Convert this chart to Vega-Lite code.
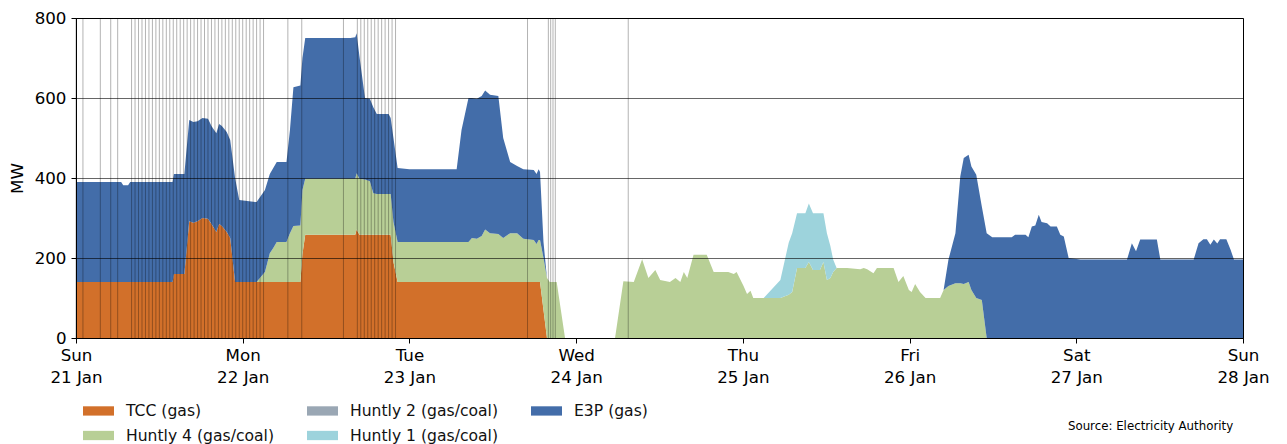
{
  "$schema": "https://vega.github.io/schema/vega-lite/v6.json",
  "description": "Generation by plant, 21-28 Jan",
  "autosize": {"type": "none"},
  "width": 1167,
  "height": 320,
  "padding": {"left": 76, "top": 18, "right": 44, "bottom": 106},
  "config": {
    "font": "DejaVu Sans",
    "view": {"stroke": "#000", "strokeWidth": 1},
    "axis": {"labelFont": "DejaVu Sans", "titleFont": "DejaVu Sans", "labelColor": "#000", "titleColor": "#000", "domainColor": "#000", "tickColor": "#000"}
  },
  "title": {"text": "Source: Electricity Authority", "orient": "bottom", "anchor": "end", "fontSize": 11.8, "fontWeight": "normal", "color": "#000", "offset": -24, "dx": -36},
  "layer": [
    {
      "data": {
        "values": [
          {"t":"2024-01-21T00:00Z","TCC":140,"H4":0,"H2":0,"H1":0,"E3P":250},
          {"t":"2024-01-21T06:30Z","TCC":140,"H4":0,"H2":0,"H1":0,"E3P":250},
          {"t":"2024-01-21T06:48Z","TCC":140,"H4":0,"H2":0,"H1":0,"E3P":242},
          {"t":"2024-01-21T07:30Z","TCC":140,"H4":0,"H2":0,"H1":0,"E3P":242},
          {"t":"2024-01-21T07:48Z","TCC":140,"H4":0,"H2":0,"H1":0,"E3P":250},
          {"t":"2024-01-21T13:54Z","TCC":140,"H4":0,"H2":0,"H1":0,"E3P":250},
          {"t":"2024-01-21T14:06Z","TCC":160,"H4":0,"H2":0,"H1":0,"E3P":250},
          {"t":"2024-01-21T15:36Z","TCC":160,"H4":0,"H2":0,"H1":0,"E3P":250},
          {"t":"2024-01-21T16:18Z","TCC":292,"H4":0,"H2":0,"H1":0,"E3P":253},
          {"t":"2024-01-21T16:54Z","TCC":288,"H4":0,"H2":0,"H1":0,"E3P":252},
          {"t":"2024-01-21T17:30Z","TCC":292,"H4":0,"H2":0,"H1":0,"E3P":250},
          {"t":"2024-01-21T18:12Z","TCC":300,"H4":0,"H2":0,"H1":0,"E3P":250},
          {"t":"2024-01-21T19:00Z","TCC":298,"H4":0,"H2":0,"H1":0,"E3P":250},
          {"t":"2024-01-21T19:30Z","TCC":285,"H4":0,"H2":0,"H1":0,"E3P":245},
          {"t":"2024-01-21T20:12Z","TCC":265,"H4":0,"H2":0,"H1":0,"E3P":247},
          {"t":"2024-01-21T20:36Z","TCC":285,"H4":0,"H2":0,"H1":0,"E3P":250},
          {"t":"2024-01-21T21:00Z","TCC":280,"H4":0,"H2":0,"H1":0,"E3P":250},
          {"t":"2024-01-21T21:42Z","TCC":265,"H4":0,"H2":0,"H1":0,"E3P":250},
          {"t":"2024-01-21T22:12Z","TCC":250,"H4":0,"H2":0,"H1":0,"E3P":245},
          {"t":"2024-01-21T22:54Z","TCC":140,"H4":0,"H2":0,"H1":0,"E3P":260},
          {"t":"2024-01-21T23:30Z","TCC":140,"H4":0,"H2":0,"H1":0,"E3P":205},
          {"t":"2024-01-22T01:48Z","TCC":140,"H4":0,"H2":0,"H1":0,"E3P":200},
          {"t":"2024-01-22T02:00Z","TCC":140,"H4":0,"H2":0,"H1":0,"E3P":200},
          {"t":"2024-01-22T03:12Z","TCC":140,"H4":25,"H2":0,"H1":0,"E3P":205},
          {"t":"2024-01-22T03:54Z","TCC":140,"H4":72,"H2":0,"H1":0,"E3P":198},
          {"t":"2024-01-22T04:24Z","TCC":140,"H4":85,"H2":0,"H1":0,"E3P":200},
          {"t":"2024-01-22T04:54Z","TCC":140,"H4":100,"H2":0,"H1":0,"E3P":200},
          {"t":"2024-01-22T06:18Z","TCC":140,"H4":100,"H2":0,"H1":0,"E3P":200},
          {"t":"2024-01-22T06:48Z","TCC":140,"H4":122,"H2":0,"H1":0,"E3P":258},
          {"t":"2024-01-22T07:18Z","TCC":140,"H4":140,"H2":0,"H1":0,"E3P":347},
          {"t":"2024-01-22T08:18Z","TCC":140,"H4":141,"H2":0,"H1":0,"E3P":350},
          {"t":"2024-01-22T08:36Z","TCC":210,"H4":160,"H2":0,"H1":0,"E3P":330},
          {"t":"2024-01-22T09:00Z","TCC":258,"H4":140,"H2":0,"H1":0,"E3P":352},
          {"t":"2024-01-22T15:30Z","TCC":258,"H4":140,"H2":0,"H1":0,"E3P":352},
          {"t":"2024-01-22T16:12Z","TCC":258,"H4":140,"H2":0,"H1":0,"E3P":354},
          {"t":"2024-01-22T16:24Z","TCC":271,"H4":141,"H2":0,"H1":0,"E3P":350},
          {"t":"2024-01-22T16:48Z","TCC":258,"H4":140,"H2":0,"H1":0,"E3P":307},
          {"t":"2024-01-22T17:36Z","TCC":258,"H4":138,"H2":0,"H1":0,"E3P":204},
          {"t":"2024-01-22T18:18Z","TCC":258,"H4":134,"H2":0,"H1":0,"E3P":206},
          {"t":"2024-01-22T18:48Z","TCC":258,"H4":104,"H2":0,"H1":0,"E3P":215},
          {"t":"2024-01-22T19:18Z","TCC":258,"H4":102,"H2":0,"H1":0,"E3P":200},
          {"t":"2024-01-22T21:00Z","TCC":258,"H4":102,"H2":0,"H1":0,"E3P":200},
          {"t":"2024-01-22T21:18Z","TCC":258,"H4":102,"H2":0,"H1":0,"E3P":190},
          {"t":"2024-01-22T21:42Z","TCC":190,"H4":100,"H2":0,"H1":0,"E3P":210},
          {"t":"2024-01-22T22:18Z","TCC":140,"H4":100,"H2":0,"H1":0,"E3P":185},
          {"t":"2024-01-23T00:00Z","TCC":140,"H4":100,"H2":0,"H1":0,"E3P":182},
          {"t":"2024-01-23T06:48Z","TCC":140,"H4":100,"H2":0,"H1":0,"E3P":182},
          {"t":"2024-01-23T07:30Z","TCC":140,"H4":100,"H2":0,"H1":0,"E3P":280},
          {"t":"2024-01-23T08:30Z","TCC":140,"H4":100,"H2":0,"H1":0,"E3P":360},
          {"t":"2024-01-23T09:00Z","TCC":140,"H4":110,"H2":0,"H1":0,"E3P":350},
          {"t":"2024-01-23T09:42Z","TCC":140,"H4":108,"H2":0,"H1":0,"E3P":350},
          {"t":"2024-01-23T10:24Z","TCC":140,"H4":115,"H2":0,"H1":0,"E3P":350},
          {"t":"2024-01-23T10:54Z","TCC":140,"H4":131,"H2":0,"H1":0,"E3P":348},
          {"t":"2024-01-23T11:36Z","TCC":140,"H4":122,"H2":0,"H1":0,"E3P":346},
          {"t":"2024-01-23T12:48Z","TCC":140,"H4":120,"H2":0,"H1":0,"E3P":345},
          {"t":"2024-01-23T13:30Z","TCC":140,"H4":110,"H2":0,"H1":0,"E3P":250},
          {"t":"2024-01-23T14:30Z","TCC":140,"H4":122,"H2":0,"H1":0,"E3P":178},
          {"t":"2024-01-23T15:30Z","TCC":140,"H4":122,"H2":0,"H1":0,"E3P":168},
          {"t":"2024-01-23T16:24Z","TCC":140,"H4":108,"H2":0,"H1":0,"E3P":174},
          {"t":"2024-01-23T17:54Z","TCC":140,"H4":105,"H2":0,"H1":0,"E3P":175},
          {"t":"2024-01-23T18:18Z","TCC":140,"H4":95,"H2":0,"H1":0,"E3P":175},
          {"t":"2024-01-23T18:36Z","TCC":140,"H4":105,"H2":0,"H1":0,"E3P":177},
          {"t":"2024-01-23T18:48Z","TCC":140,"H4":105,"H2":0,"H1":0,"E3P":170},
          {"t":"2024-01-23T19:18Z","TCC":70,"H4":130,"H2":0,"H1":0,"E3P":40},
          {"t":"2024-01-23T19:48Z","TCC":0,"H4":150,"H2":0,"H1":0,"E3P":0},
          {"t":"2024-01-23T20:12Z","TCC":0,"H4":140,"H2":0,"H1":0,"E3P":0},
          {"t":"2024-01-23T21:12Z","TCC":0,"H4":140,"H2":0,"H1":0,"E3P":0},
          {"t":"2024-01-23T21:48Z","TCC":0,"H4":70,"H2":0,"H1":0,"E3P":0},
          {"t":"2024-01-23T22:24Z","TCC":0,"H4":0,"H2":0,"H1":0,"E3P":0},
          {"t":"2024-01-24T05:36Z","TCC":0,"H4":0,"H2":0,"H1":0,"E3P":0},
          {"t":"2024-01-24T06:48Z","TCC":0,"H4":142,"H2":0,"H1":0,"E3P":0},
          {"t":"2024-01-24T08:18Z","TCC":0,"H4":140,"H2":0,"H1":0,"E3P":0},
          {"t":"2024-01-24T09:30Z","TCC":0,"H4":197,"H2":0,"H1":0,"E3P":0},
          {"t":"2024-01-24T10:24Z","TCC":0,"H4":150,"H2":0,"H1":0,"E3P":0},
          {"t":"2024-01-24T11:24Z","TCC":0,"H4":170,"H2":0,"H1":0,"E3P":0},
          {"t":"2024-01-24T12:06Z","TCC":0,"H4":145,"H2":0,"H1":0,"E3P":0},
          {"t":"2024-01-24T13:30Z","TCC":0,"H4":140,"H2":0,"H1":0,"E3P":0},
          {"t":"2024-01-24T14:18Z","TCC":0,"H4":150,"H2":0,"H1":0,"E3P":0},
          {"t":"2024-01-24T15:00Z","TCC":0,"H4":140,"H2":0,"H1":0,"E3P":0},
          {"t":"2024-01-24T15:30Z","TCC":0,"H4":165,"H2":0,"H1":0,"E3P":0},
          {"t":"2024-01-24T16:00Z","TCC":0,"H4":150,"H2":0,"H1":0,"E3P":0},
          {"t":"2024-01-24T16:54Z","TCC":0,"H4":208,"H2":0,"H1":0,"E3P":0},
          {"t":"2024-01-24T18:48Z","TCC":0,"H4":208,"H2":0,"H1":0,"E3P":0},
          {"t":"2024-01-24T19:48Z","TCC":0,"H4":165,"H2":0,"H1":0,"E3P":0},
          {"t":"2024-01-24T21:54Z","TCC":0,"H4":165,"H2":0,"H1":0,"E3P":0},
          {"t":"2024-01-24T22:42Z","TCC":0,"H4":160,"H2":0,"H1":0,"E3P":0},
          {"t":"2024-01-24T23:06Z","TCC":0,"H4":165,"H2":0,"H1":0,"E3P":0},
          {"t":"2024-01-25T00:06Z","TCC":0,"H4":130,"H2":0,"H1":0,"E3P":0},
          {"t":"2024-01-25T00:36Z","TCC":0,"H4":110,"H2":0,"H1":0,"E3P":0},
          {"t":"2024-01-25T01:06Z","TCC":0,"H4":118,"H2":0,"H1":0,"E3P":0},
          {"t":"2024-01-25T01:30Z","TCC":0,"H4":100,"H2":0,"H1":0,"E3P":0},
          {"t":"2024-01-25T03:00Z","TCC":0,"H4":100,"H2":0,"H1":0,"E3P":0},
          {"t":"2024-01-25T05:24Z","TCC":0,"H4":100,"H2":0,"H1":45,"E3P":0},
          {"t":"2024-01-25T06:36Z","TCC":0,"H4":108,"H2":0,"H1":130,"E3P":0},
          {"t":"2024-01-25T07:06Z","TCC":0,"H4":115,"H2":0,"H1":147,"E3P":0},
          {"t":"2024-01-25T07:48Z","TCC":0,"H4":175,"H2":0,"H1":137,"E3P":0},
          {"t":"2024-01-25T09:00Z","TCC":0,"H4":175,"H2":0,"H1":137,"E3P":0},
          {"t":"2024-01-25T09:30Z","TCC":0,"H4":190,"H2":0,"H1":146,"E3P":0},
          {"t":"2024-01-25T10:06Z","TCC":0,"H4":170,"H2":0,"H1":142,"E3P":0},
          {"t":"2024-01-25T11:06Z","TCC":0,"H4":170,"H2":0,"H1":142,"E3P":0},
          {"t":"2024-01-25T11:36Z","TCC":0,"H4":190,"H2":0,"H1":122,"E3P":0},
          {"t":"2024-01-25T12:06Z","TCC":0,"H4":145,"H2":0,"H1":117,"E3P":0},
          {"t":"2024-01-25T12:36Z","TCC":0,"H4":150,"H2":0,"H1":80,"E3P":0},
          {"t":"2024-01-25T13:00Z","TCC":0,"H4":165,"H2":0,"H1":31,"E3P":0},
          {"t":"2024-01-25T13:30Z","TCC":0,"H4":175,"H2":0,"H1":0,"E3P":0},
          {"t":"2024-01-25T15:00Z","TCC":0,"H4":175,"H2":0,"H1":0,"E3P":0},
          {"t":"2024-01-25T16:54Z","TCC":0,"H4":172,"H2":0,"H1":0,"E3P":0},
          {"t":"2024-01-25T17:24Z","TCC":0,"H4":175,"H2":0,"H1":0,"E3P":0},
          {"t":"2024-01-25T17:54Z","TCC":0,"H4":172,"H2":0,"H1":0,"E3P":0},
          {"t":"2024-01-25T18:48Z","TCC":0,"H4":162,"H2":0,"H1":0,"E3P":0},
          {"t":"2024-01-25T19:18Z","TCC":0,"H4":175,"H2":0,"H1":0,"E3P":0},
          {"t":"2024-01-25T21:42Z","TCC":0,"H4":175,"H2":0,"H1":0,"E3P":0},
          {"t":"2024-01-25T22:24Z","TCC":0,"H4":140,"H2":0,"H1":0,"E3P":0},
          {"t":"2024-01-25T23:06Z","TCC":0,"H4":155,"H2":0,"H1":0,"E3P":0},
          {"t":"2024-01-25T23:54Z","TCC":0,"H4":120,"H2":0,"H1":0,"E3P":0},
          {"t":"2024-01-26T00:18Z","TCC":0,"H4":115,"H2":0,"H1":0,"E3P":0},
          {"t":"2024-01-26T00:48Z","TCC":0,"H4":135,"H2":0,"H1":0,"E3P":0},
          {"t":"2024-01-26T01:30Z","TCC":0,"H4":115,"H2":0,"H1":0,"E3P":0},
          {"t":"2024-01-26T02:18Z","TCC":0,"H4":100,"H2":0,"H1":0,"E3P":0},
          {"t":"2024-01-26T04:24Z","TCC":0,"H4":100,"H2":0,"H1":0,"E3P":0},
          {"t":"2024-01-26T04:54Z","TCC":0,"H4":120,"H2":0,"H1":0,"E3P":0},
          {"t":"2024-01-26T05:36Z","TCC":0,"H4":130,"H2":0,"H1":0,"E3P":66},
          {"t":"2024-01-26T06:36Z","TCC":0,"H4":137,"H2":0,"H1":0,"E3P":125},
          {"t":"2024-01-26T07:18Z","TCC":0,"H4":137,"H2":0,"H1":0,"E3P":267},
          {"t":"2024-01-26T07:48Z","TCC":0,"H4":135,"H2":0,"H1":0,"E3P":315},
          {"t":"2024-01-26T08:30Z","TCC":0,"H4":140,"H2":0,"H1":0,"E3P":318},
          {"t":"2024-01-26T08:54Z","TCC":0,"H4":120,"H2":0,"H1":0,"E3P":309},
          {"t":"2024-01-26T09:36Z","TCC":0,"H4":100,"H2":0,"H1":0,"E3P":308},
          {"t":"2024-01-26T10:24Z","TCC":0,"H4":95,"H2":0,"H1":0,"E3P":234},
          {"t":"2024-01-26T11:06Z","TCC":0,"H4":0,"H2":0,"H1":0,"E3P":262},
          {"t":"2024-01-26T11:54Z","TCC":0,"H4":0,"H2":0,"H1":0,"E3P":252},
          {"t":"2024-01-26T14:42Z","TCC":0,"H4":0,"H2":0,"H1":0,"E3P":252},
          {"t":"2024-01-26T15:12Z","TCC":0,"H4":0,"H2":0,"H1":0,"E3P":258},
          {"t":"2024-01-26T16:42Z","TCC":0,"H4":0,"H2":0,"H1":0,"E3P":258},
          {"t":"2024-01-26T17:06Z","TCC":0,"H4":0,"H2":0,"H1":0,"E3P":252},
          {"t":"2024-01-26T17:36Z","TCC":0,"H4":0,"H2":0,"H1":0,"E3P":279},
          {"t":"2024-01-26T18:06Z","TCC":0,"H4":0,"H2":0,"H1":0,"E3P":281},
          {"t":"2024-01-26T18:36Z","TCC":0,"H4":0,"H2":0,"H1":0,"E3P":308},
          {"t":"2024-01-26T19:00Z","TCC":0,"H4":0,"H2":0,"H1":0,"E3P":290},
          {"t":"2024-01-26T19:48Z","TCC":0,"H4":0,"H2":0,"H1":0,"E3P":287},
          {"t":"2024-01-26T20:18Z","TCC":0,"H4":0,"H2":0,"H1":0,"E3P":279},
          {"t":"2024-01-26T21:12Z","TCC":0,"H4":0,"H2":0,"H1":0,"E3P":279},
          {"t":"2024-01-26T21:42Z","TCC":0,"H4":0,"H2":0,"H1":0,"E3P":258},
          {"t":"2024-01-26T22:12Z","TCC":0,"H4":0,"H2":0,"H1":0,"E3P":254},
          {"t":"2024-01-26T22:54Z","TCC":0,"H4":0,"H2":0,"H1":0,"E3P":200},
          {"t":"2024-01-27T00:36Z","TCC":0,"H4":0,"H2":0,"H1":0,"E3P":196},
          {"t":"2024-01-27T07:18Z","TCC":0,"H4":0,"H2":0,"H1":0,"E3P":196},
          {"t":"2024-01-27T08:00Z","TCC":0,"H4":0,"H2":0,"H1":0,"E3P":237},
          {"t":"2024-01-27T08:36Z","TCC":0,"H4":0,"H2":0,"H1":0,"E3P":217},
          {"t":"2024-01-27T09:12Z","TCC":0,"H4":0,"H2":0,"H1":0,"E3P":246},
          {"t":"2024-01-27T11:36Z","TCC":0,"H4":0,"H2":0,"H1":0,"E3P":246},
          {"t":"2024-01-27T12:06Z","TCC":0,"H4":0,"H2":0,"H1":0,"E3P":196},
          {"t":"2024-01-27T16:54Z","TCC":0,"H4":0,"H2":0,"H1":0,"E3P":196},
          {"t":"2024-01-27T17:36Z","TCC":0,"H4":0,"H2":0,"H1":0,"E3P":237},
          {"t":"2024-01-27T18:18Z","TCC":0,"H4":0,"H2":0,"H1":0,"E3P":247},
          {"t":"2024-01-27T18:48Z","TCC":0,"H4":0,"H2":0,"H1":0,"E3P":247},
          {"t":"2024-01-27T19:18Z","TCC":0,"H4":0,"H2":0,"H1":0,"E3P":233},
          {"t":"2024-01-27T19:48Z","TCC":0,"H4":0,"H2":0,"H1":0,"E3P":246},
          {"t":"2024-01-27T20:18Z","TCC":0,"H4":0,"H2":0,"H1":0,"E3P":236},
          {"t":"2024-01-27T20:42Z","TCC":0,"H4":0,"H2":0,"H1":0,"E3P":247},
          {"t":"2024-01-27T21:36Z","TCC":0,"H4":0,"H2":0,"H1":0,"E3P":247},
          {"t":"2024-01-27T22:12Z","TCC":0,"H4":0,"H2":0,"H1":0,"E3P":221},
          {"t":"2024-01-27T22:42Z","TCC":0,"H4":0,"H2":0,"H1":0,"E3P":196},
          {"t":"2024-01-28T00:00Z","TCC":0,"H4":0,"H2":0,"H1":0,"E3P":196}
        ]
      },
      "transform": [{"fold": ["TCC", "H4", "H2", "H1", "E3P"], "as": ["plant", "mw"]}],
      "mark": {"type": "area", "interpolate": "linear", "strokeWidth": 0},
      "encoding": {
        "x": {
          "field": "t",
          "type": "temporal",
          "scale": {"type": "utc", "domain": [{"year": 2024, "month": 1, "date": 21, "utc": true}, {"year": 2024, "month": 1, "date": 28, "utc": true}]},
          "axis": {
            "title": null,
            "zindex": 1,
            "grid": false,
            "tickCount": {"interval": "day", "step": 1},
            "labelExpr": "[utcFormat(datum.value, '%a'), utcFormat(datum.value, '%-d %b')]",
            "labelFontSize": 16.7,
            "labelLineHeight": 22,
            "labelFlush": false,
            "labelOverlap": false,
            "labelPadding": 4,
            "tickSize": 5
          }
        },
        "y": {
          "field": "mw",
          "type": "quantitative",
          "stack": "zero",
          "scale": {"domain": [0, 800], "nice": false},
          "axis": {
            "title": "MW",
            "titleFontSize": 16.7,
            "titleFontWeight": "normal",
            "titlePadding": 8,
            "values": [0, 200, 400, 600, 800],
            "zindex": 1,
            "grid": true,
            "gridColor": "#000",
            "gridOpacity": 0.6,
            "labelFontSize": 16.7,
            "labelPadding": 5,
            "tickSize": 5
          }
        },
        "order": {"field": "plant", "sort": "descending"},
        "color": {
          "field": "plant",
          "type": "nominal",
          "scale": {
            "domain": ["TCC", "H4", "H2", "H1", "E3P"],
            "range": ["#D2702A", "#B8CF96", "#9AA7B4", "#9DD3DC", "#436DA9"]
          },
          "legend": {
            "title": null,
            "orient": "none",
            "legendX": 7,
            "legendY": 377,
            "columns": 3,
            "padding": 0,
            "columnPadding": 32,
            "rowPadding": -3,
            "symbolType": "M-1,-0.3L1,-0.3L1,0.3L-1,0.3Z",
            "symbolSize": 961,
            "symbolStrokeWidth": 0,
            "symbolOpacity": 1,
            "labelFontSize": 15.6,
            "labelColor": "#111",
            "labelOffset": 12,
            "labelExpr": "datum.label == 'TCC' ? 'TCC (gas)' : datum.label == 'H4' ? 'Huntly 4 (gas/coal)' : datum.label == 'H2' ? 'Huntly 2 (gas/coal)' : datum.label == 'H1' ? 'Huntly 1 (gas/coal)' : 'E3P (gas)'"
          }
        }
      }
    },
    {
      "data": {
        "values": [
          {"t":"2024-01-21T00:00Z"},{"t":"2024-01-21T01:00Z"},{"t":"2024-01-21T03:30Z"},{"t":"2024-01-21T05:00Z"},{"t":"2024-01-21T06:00Z"},
          {"t":"2024-01-21T08:00Z"},{"t":"2024-01-21T08:30Z"},{"t":"2024-01-21T09:00Z"},{"t":"2024-01-21T09:30Z"},
          {"t":"2024-01-21T10:00Z"},{"t":"2024-01-21T10:30Z"},{"t":"2024-01-21T11:00Z"},{"t":"2024-01-21T11:30Z"},
          {"t":"2024-01-21T12:00Z"},{"t":"2024-01-21T12:30Z"},{"t":"2024-01-21T13:00Z"},{"t":"2024-01-21T13:30Z"},
          {"t":"2024-01-21T14:00Z"},{"t":"2024-01-21T14:30Z"},{"t":"2024-01-21T15:00Z"},{"t":"2024-01-21T15:30Z"},
          {"t":"2024-01-21T16:00Z"},{"t":"2024-01-21T16:30Z"},{"t":"2024-01-21T17:00Z"},{"t":"2024-01-21T17:30Z"},
          {"t":"2024-01-21T18:00Z"},{"t":"2024-01-21T18:30Z"},{"t":"2024-01-21T19:00Z"},{"t":"2024-01-21T19:30Z"},
          {"t":"2024-01-21T20:00Z"},{"t":"2024-01-21T20:30Z"},{"t":"2024-01-21T21:00Z"},{"t":"2024-01-21T21:30Z"},
          {"t":"2024-01-21T22:00Z"},{"t":"2024-01-21T22:30Z"},{"t":"2024-01-21T23:00Z"},{"t":"2024-01-21T23:30Z"},
          {"t":"2024-01-22T00:00Z"},{"t":"2024-01-22T00:30Z"},{"t":"2024-01-22T01:00Z"},{"t":"2024-01-22T01:30Z"},
          {"t":"2024-01-22T02:00Z"},{"t":"2024-01-22T02:30Z"},{"t":"2024-01-22T03:00Z"},
          {"t":"2024-01-22T06:30Z"},{"t":"2024-01-22T08:30Z"},{"t":"2024-01-22T14:30Z"},
          {"t":"2024-01-22T16:30Z"},{"t":"2024-01-22T17:00Z"},{"t":"2024-01-22T17:30Z"},{"t":"2024-01-22T18:00Z"},
          {"t":"2024-01-22T18:30Z"},{"t":"2024-01-22T19:00Z"},{"t":"2024-01-22T19:30Z"},{"t":"2024-01-22T20:00Z"},
          {"t":"2024-01-22T20:30Z"},{"t":"2024-01-22T21:00Z"},{"t":"2024-01-22T21:30Z"},{"t":"2024-01-22T22:00Z"},
          {"t":"2024-01-23T17:00Z"},{"t":"2024-01-23T20:00Z"},{"t":"2024-01-23T20:20Z"},{"t":"2024-01-23T20:40Z"},{"t":"2024-01-23T21:00Z"},
          {"t":"2024-01-24T07:30Z"}
        ]
      },
      "mark": {"type": "rule", "color": "#000", "opacity": 0.3, "strokeWidth": 1},
      "encoding": {
        "x": {"field": "t", "type": "temporal"}
      }
    }
  ]
}
